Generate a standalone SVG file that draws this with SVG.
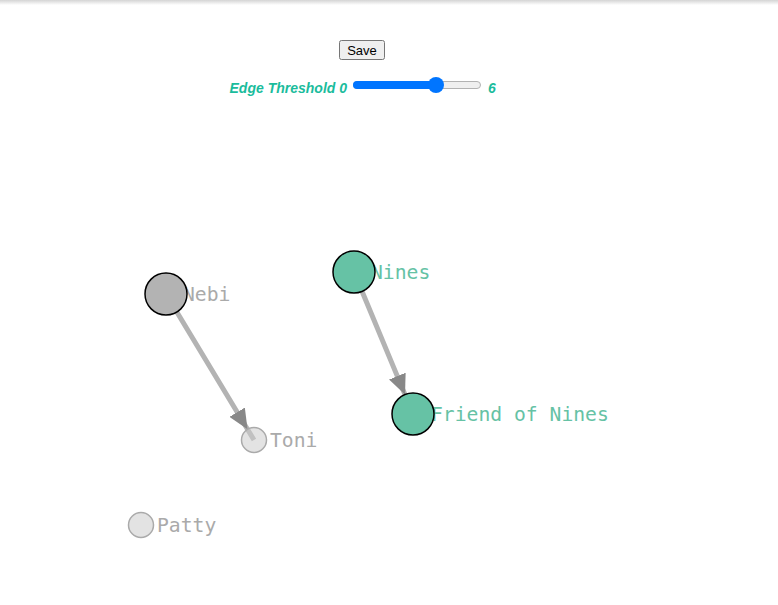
<svg xmlns="http://www.w3.org/2000/svg" width="778" height="605" viewBox="0 0 778 605">
<defs>
<linearGradient id="topShade" x1="0" y1="0" x2="0" y2="1">
<stop offset="0" stop-color="#d4d4d4"/>
<stop offset="1" stop-color="#ffffff"/>
</linearGradient>
<marker id="arrow" markerUnits="userSpaceOnUse" viewBox="0 -9 20 18" refX="20" refY="0" markerWidth="20" markerHeight="18" orient="auto">
<path d="M0,-9L20,0L0,9Z" fill="#888888"/>
</marker>
<style>
.lbl{font-family:"DejaVu Sans Mono","Liberation Mono",monospace;font-size:19.7px;}
.grey{fill:#aaaaaa;}
.green{fill:#66c2a5;}
.big{stroke:#000;stroke-width:1.5;}
.small{fill:#cccccc;fill-opacity:0.55;stroke:#aaaaaa;stroke-width:1.5;}
.edge{fill:none;stroke:#b3b3b3;stroke-width:5;marker-mid:url(#arrow);}
.ctl{font-family:"Liberation Sans",Arial,sans-serif;font-size:14px;font-style:italic;font-weight:bold;fill:#1abc9c;}
</style>
</defs>
<rect x="0" y="0" width="778" height="5" fill="url(#topShade)"/>
<g id="controls">
<rect x="339.5" y="40.5" width="45" height="19" rx="2" fill="#efefef" stroke="#767676"/>
<text x="362" y="55" text-anchor="middle" font-family="Liberation Sans,Arial,sans-serif" font-size="13" fill="#000">Save</text>
<text class="ctl" x="347" y="93" text-anchor="end">Edge Threshold 0</text>
<rect x="353.5" y="81.5" width="127" height="7" rx="3.5" fill="#efefef" stroke="#b2b2b2"/>
<rect x="353" y="81" width="84" height="8" rx="4" fill="#0075ff"/>
<circle cx="436" cy="85" r="8" fill="#0075ff"/>
<text class="ctl" x="488" y="93">6</text>
</g>
<g id="connectors">
<polyline class="edge" points="166,294 247.5,429.3 254,440"/>
<polyline class="edge" points="354,272 405,394.6 413,414"/>
</g>
<g id="node-nebi">
<text class="lbl grey" x="183" y="301">Nebi</text>
<circle class="big" cx="166" cy="294" r="21" fill="#b3b3b3"/>
</g>
<g id="node-nines">
<text class="lbl green" x="371" y="279">Nines</text>
<circle class="big" cx="354" cy="272" r="21" fill="#66c2a5"/>
</g>
<g id="node-friend-of-nines">
<text class="lbl green" x="431" y="421">Friend of Nines</text>
<circle class="big" cx="413" cy="414" r="21" fill="#66c2a5"/>
</g>
<g id="node-toni">
<text class="lbl grey" x="270" y="447">Toni</text>
<circle class="small" cx="254" cy="440" r="12.5"/>
</g>
<g id="node-patty">
<text class="lbl grey" x="157" y="532">Patty</text>
<circle class="small" cx="141" cy="525" r="12.5"/>
</g>
</svg>
